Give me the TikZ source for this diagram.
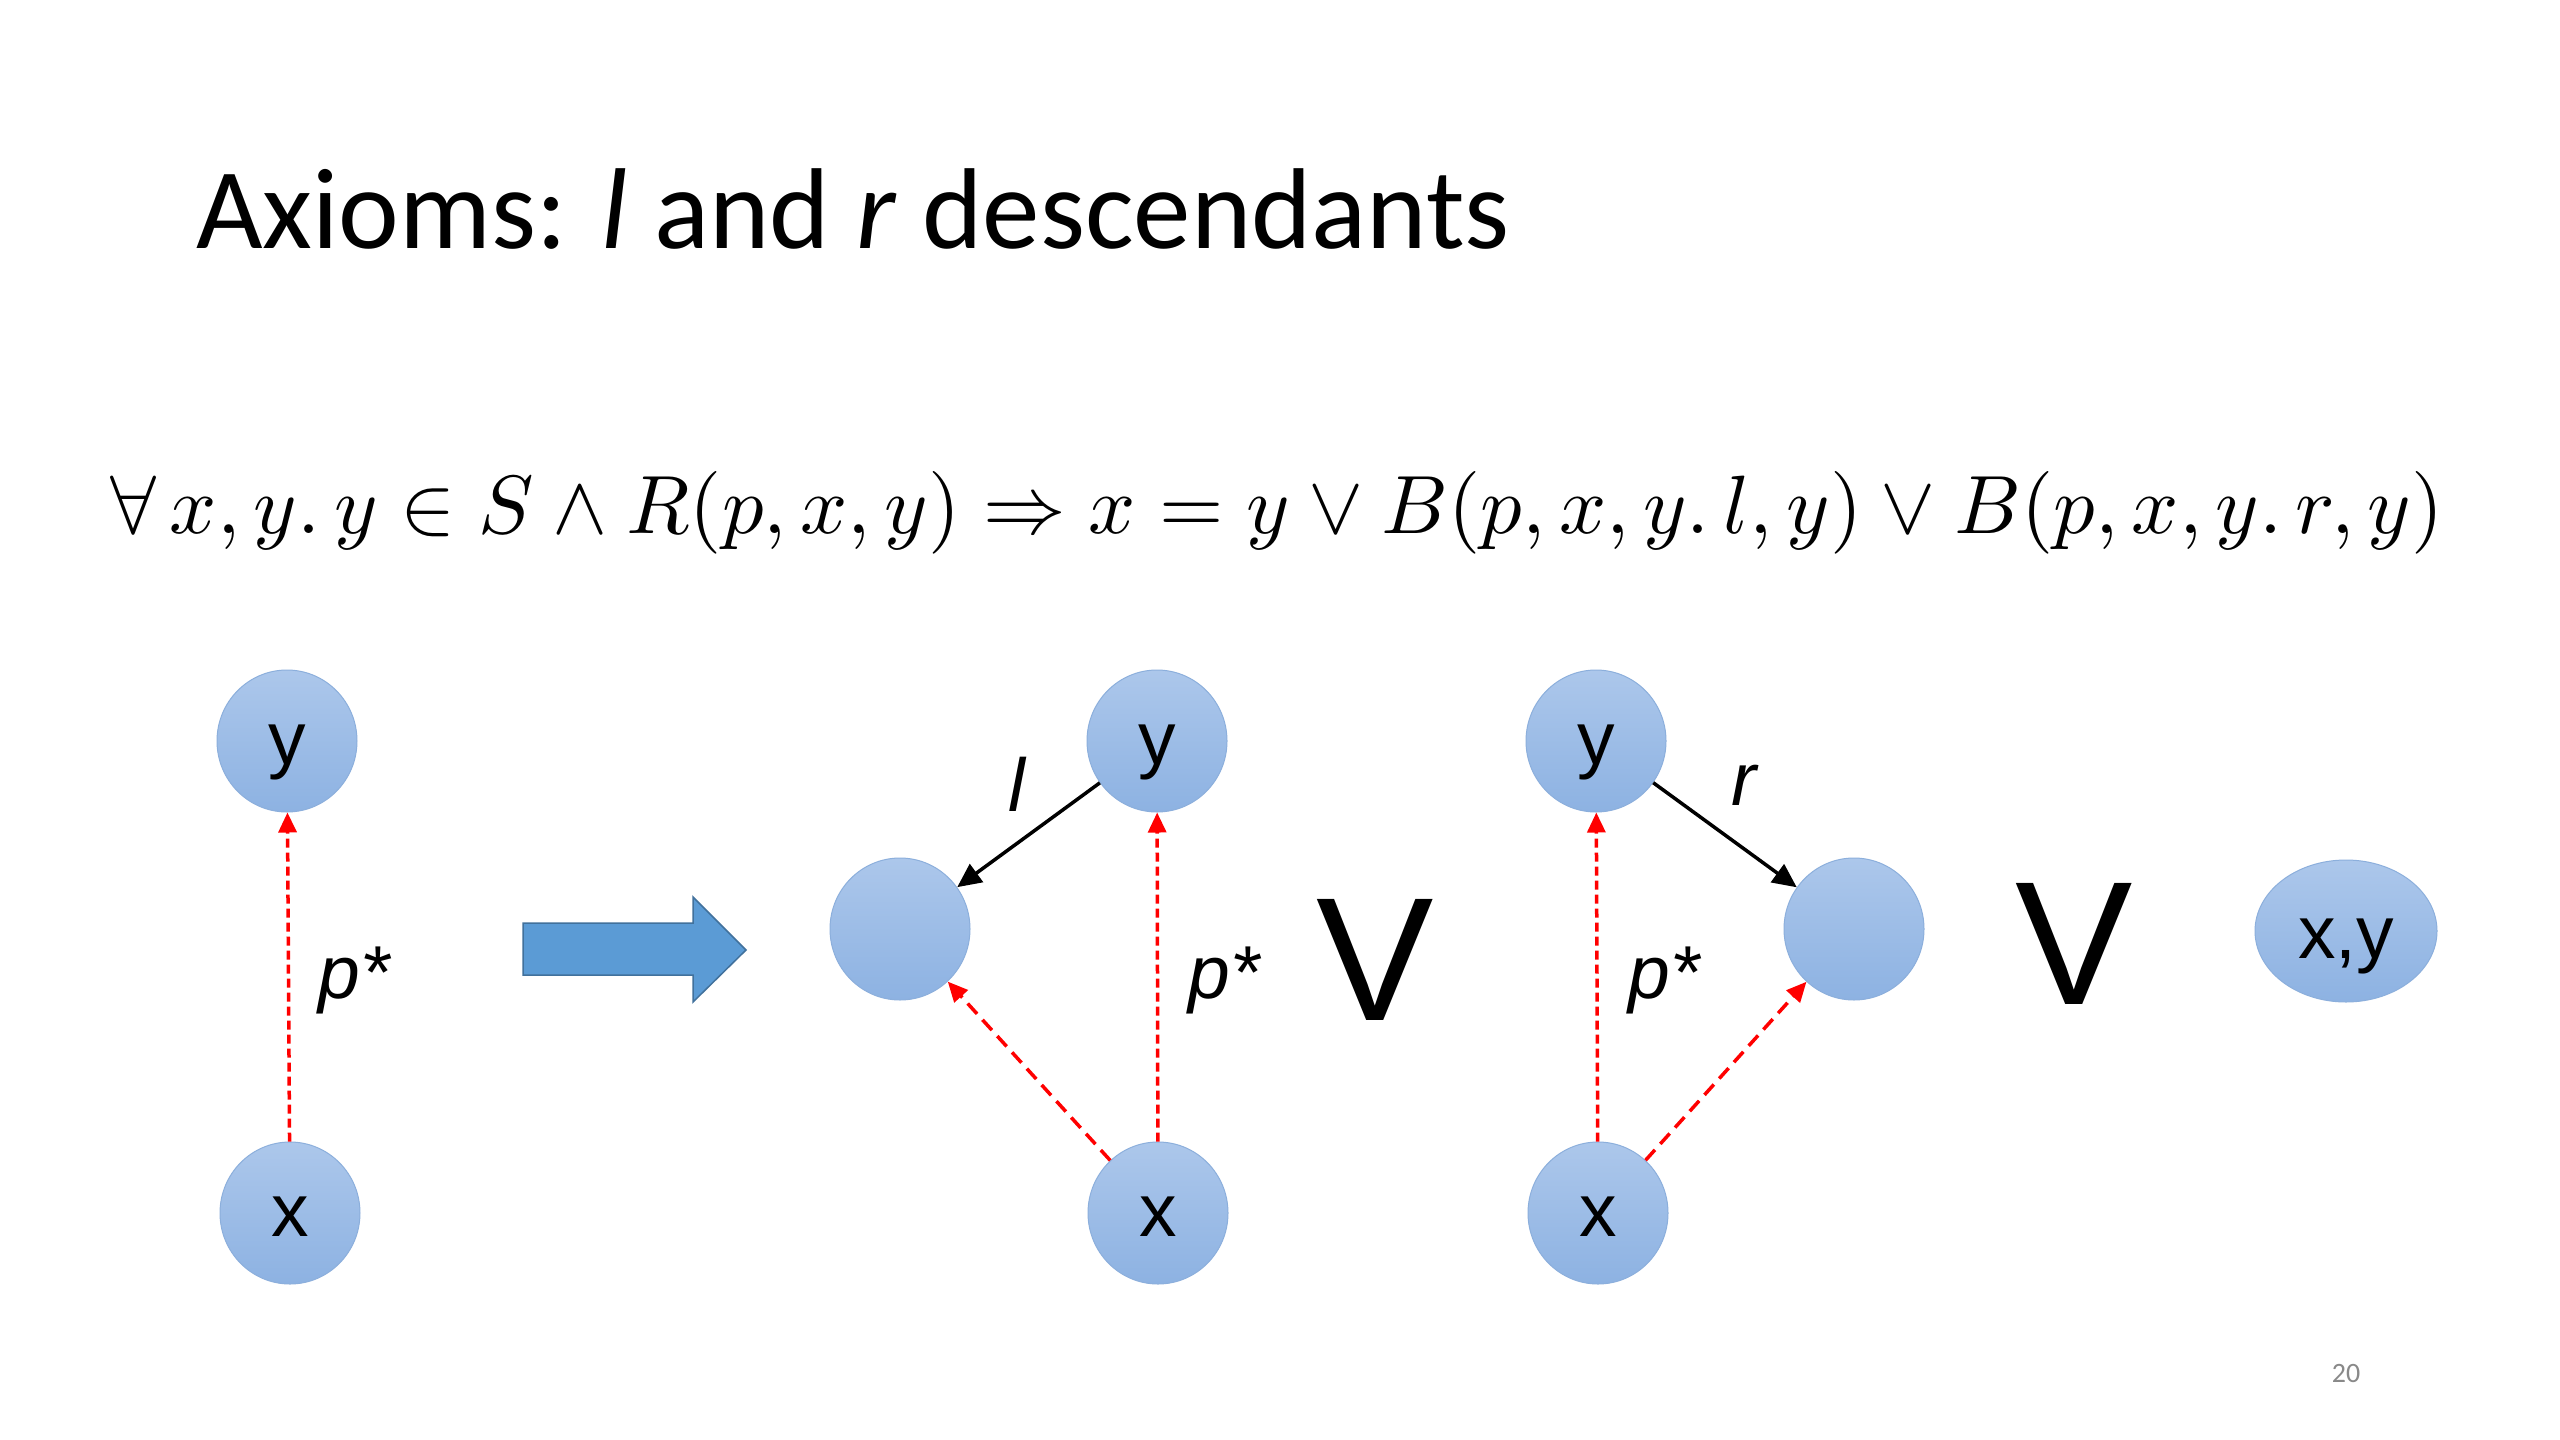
\documentclass[tikz,border=0pt]{standalone}
\usepackage{amsmath,amssymb}
\usepackage{fontspec}
\setmainfont{Carlito}
\newfontfamily\arialf{Liberation Sans}
\usetikzlibrary{shapes.geometric,arrows.meta}
\definecolor{ntop}{RGB}{172,199,235}
\definecolor{nbot}{RGB}{141,178,226}
\definecolor{nedge}{RGB}{140,175,220}
\definecolor{bigfill}{RGB}{91,155,213}
\definecolor{bigedge}{RGB}{65,113,156}
\definecolor{pnum}{RGB}{137,137,137}
\definecolor{redarr}{RGB}{255,0,0}
\begin{document}
\begin{tikzpicture}[x=1pt,y=-1pt,
  blob/.style={ellipse, inner sep=0pt, minimum width=140pt, minimum height=142pt,
    top color=ntop, bottom color=nbot, draw=nedge, line width=1pt,
    text height=46pt, text depth=0pt,
    font=\arialf\fontsize{75}{90}\selectfont},
  blobwide/.style={blob, minimum width=182pt, minimum height=142pt, text height=54pt},
  pstar/.style={inner sep=0pt, font=\arialf\fontsize{75}{90}\selectfont\itshape},
  bigor/.style={inner sep=0pt, font=\arialf\fontsize{176}{210}\selectfont},
  redvert/.style={draw=redarr, line width=3.5pt, dash pattern=on 9pt off 5pt,
    -{Triangle[length=20pt,width=18pt]}},
  reddiag/.style={draw=redarr, line width=3.5pt, dash pattern=on 14pt off 8pt,
    -{Triangle[length=20pt,width=18pt]}},
  blackarr/.style={draw=black, line width=3.5pt, -{Triangle[length=24pt,width=22pt]}}
]
\useasboundingbox (0,0) rectangle (2560,1440);
\fill[white] (0,0) rectangle (2560,1440);

% title
\node[anchor=base west, inner sep=0pt] (title) at (196,248)
  {\fontsize{115}{138}\selectfont Axioms: \textit{l} and \textit{r} descendants};

% formula
\node[inner sep=0pt] (formula) at (1277,513)
  {\resizebox{2333pt}{!}{$\forall\, x, y.\, y \in S \wedge R(p,x,y) \Rightarrow x = y \vee B(p,x,y.\,l,y) \vee B(p,x,y.\,r,y)$}};

% left group
\node[blob] (ly) at (287,741) {y};
\node[blob] (lx) at (290,1213) {x};
\draw[redvert] (lx) -- (ly);
\node[pstar] (lp) at (354,980) {p*};

% big arrow
\draw[fill=bigfill, draw=bigedge, line width=1.5pt]
  (523,923) -- (693,923) -- (693,897) -- (746,950) -- (693,1002) -- (693,975) -- (523,975) -- cycle;

% middle group
\node[blob] (my) at (1157,741) {y};
\node[blob] (mx) at (1158,1213) {x};
\node[blob] (me) at (900,929) {};
\draw[blackarr] (my) -- (me);
\draw[redvert] (mx) -- (my);
\draw[reddiag] (mx) -- (me);
\node[pstar] (ml) at (1017,784) {l};
\node[pstar] (mp) at (1224,980) {p*};

\node[bigor] (or1) at (1375,960) {V};

% right group
\node[blob] (ry) at (1596,741) {y};
\node[blob] (rx) at (1598,1213) {x};
\node[blob] (re) at (1854,929) {};
\draw[blackarr] (ry) -- (re);
\draw[redvert] (rx) -- (ry);
\draw[reddiag] (rx) -- (re);
\node[pstar] (rl) at (1744,785) {r};
\node[pstar] (rp) at (1664,980) {p*};

\node[bigor] (or2) at (2074,944) {V};

\node[blobwide] (xy) at (2346,931) {x,y};

% page number
\node[inner sep=0pt, text=pnum, font=\fontsize{28}{34}\selectfont] (pg) at (2346,1373) {20};
\end{tikzpicture}
\end{document}
